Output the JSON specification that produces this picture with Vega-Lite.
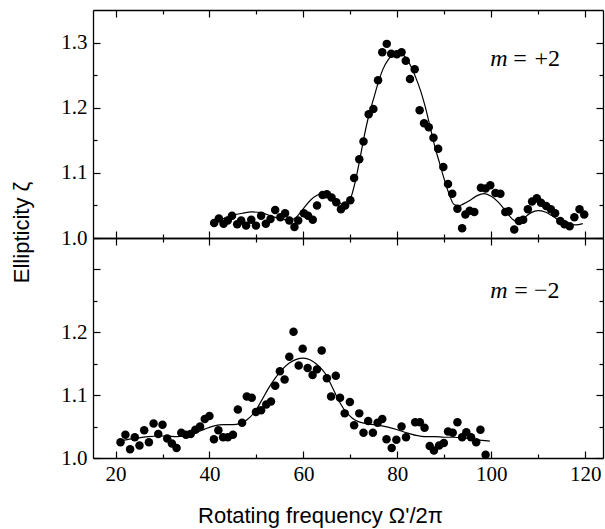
{
  "$schema": "https://vega.github.io/schema/vega-lite/v6.json",
  "padding": {"left": 10, "top": 9, "right": 3, "bottom": 5},
  "background": "white",
  "config": {
    "view": {"stroke": null},
    "axis": {
      "domainColor": "black", "domainWidth": 1.3,
      "tickColor": "black", "tickWidth": 1.2,
      "grid": false,
      "labelFont": "Liberation Serif", "labelFontSize": 21, "labelColor": "black",
      "labelOverlap": false, "labelFlush": false,
      "titleFont": "Liberation Sans", "titleFontSize": 22, "titleFontWeight": "normal", "titleColor": "black"
    }
  },
  "datasets": {
    "top_pts": [
      {"f":41.0,"z":1.023},{"f":42.0,"z":1.030},{"f":43.0,"z":1.022},{"f":43.9,"z":1.027},{"f":44.8,"z":1.034},
      {"f":45.9,"z":1.021},{"f":46.75,"z":1.027},{"f":47.8,"z":1.019},{"f":48.9,"z":1.028},{"f":49.9,"z":1.019},
      {"f":51.0,"z":1.034},{"f":52.0,"z":1.022},{"f":53.0,"z":1.029},{"f":54.0,"z":1.043},{"f":55.1,"z":1.032},
      {"f":56.1,"z":1.038},{"f":57.0,"z":1.027},{"f":58.1,"z":1.017},{"f":58.9,"z":1.027},{"f":60.1,"z":1.038},
      {"f":61.0,"z":1.034},{"f":62.0,"z":1.028},{"f":62.9,"z":1.050},{"f":64.1,"z":1.066},{"f":65.0,"z":1.067},
      {"f":66.0,"z":1.062},{"f":67.0,"z":1.055},{"f":68.0,"z":1.044},{"f":68.9,"z":1.050},{"f":70.0,"z":1.058},
      {"f":70.8,"z":1.092},{"f":71.9,"z":1.121},{"f":72.8,"z":1.148},{"f":73.9,"z":1.190},{"f":74.9,"z":1.198},
      {"f":75.9,"z":1.242},{"f":76.8,"z":1.285},{"f":77.75,"z":1.298},{"f":78.7,"z":1.283},{"f":79.9,"z":1.282},
      {"f":80.9,"z":1.285},{"f":81.8,"z":1.272},{"f":82.7,"z":1.244},{"f":83.7,"z":1.259},{"f":84.75,"z":1.196},
      {"f":85.7,"z":1.176},{"f":86.7,"z":1.170},{"f":87.7,"z":1.154},{"f":88.7,"z":1.137},{"f":89.8,"z":1.109},
      {"f":90.8,"z":1.083},{"f":91.7,"z":1.068},{"f":92.8,"z":1.045},{"f":93.8,"z":1.015},{"f":94.5,"z":1.036},
      {"f":95.4,"z":1.042},{"f":96.4,"z":1.040},{"f":97.8,"z":1.077},{"f":98.8,"z":1.076},{"f":99.8,"z":1.081},
      {"f":100.9,"z":1.069},{"f":101.95,"z":1.068},{"f":103.0,"z":1.040},{"f":103.7,"z":1.041},{"f":104.9,"z":1.013},
      {"f":105.9,"z":1.026},{"f":106.8,"z":1.028},{"f":107.8,"z":1.044},{"f":108.7,"z":1.056},{"f":109.7,"z":1.061},
      {"f":110.6,"z":1.054},{"f":111.7,"z":1.049},{"f":112.7,"z":1.044},{"f":113.6,"z":1.038},{"f":114.7,"z":1.026},
      {"f":115.6,"z":1.021},{"f":116.7,"z":1.018},{"f":117.7,"z":1.032},{"f":118.8,"z":1.044},{"f":119.8,"z":1.036}
    ],
    "top_fit": [
      {"f":40.5,"z":1.025},{"f":43,"z":1.030},{"f":45,"z":1.035},{"f":47,"z":1.038},{"f":49,"z":1.040},
      {"f":51,"z":1.039},{"f":53,"z":1.034},{"f":55,"z":1.030},{"f":57,"z":1.027},{"f":58.5,"z":1.032},
      {"f":60,"z":1.045},{"f":61.5,"z":1.058},{"f":63,"z":1.066},{"f":64.5,"z":1.069},{"f":66,"z":1.064},
      {"f":67.5,"z":1.055},{"f":68.7,"z":1.050},{"f":70,"z":1.060},{"f":71,"z":1.085},{"f":72,"z":1.12},
      {"f":73,"z":1.158},{"f":74,"z":1.19},{"f":75,"z":1.215},{"f":76,"z":1.240},{"f":77,"z":1.260},
      {"f":78,"z":1.273},{"f":79,"z":1.281},{"f":80,"z":1.284},{"f":81,"z":1.282},{"f":82,"z":1.275},
      {"f":83,"z":1.262},{"f":84,"z":1.245},{"f":85,"z":1.225},{"f":86,"z":1.200},{"f":87,"z":1.170},
      {"f":88,"z":1.140},{"f":89,"z":1.115},{"f":90,"z":1.090},{"f":91,"z":1.068},{"f":92,"z":1.052},
      {"f":93,"z":1.049},{"f":94,"z":1.052},{"f":95.5,"z":1.058},{"f":97,"z":1.065},{"f":98.5,"z":1.068},
      {"f":100,"z":1.064},{"f":101.5,"z":1.055},{"f":103,"z":1.042},{"f":104.5,"z":1.029},{"f":105.5,"z":1.025},
      {"f":107,"z":1.031},{"f":108.5,"z":1.039},{"f":110,"z":1.042},{"f":111.5,"z":1.040},{"f":113,"z":1.034},
      {"f":114.5,"z":1.027},{"f":116,"z":1.022},{"f":118,"z":1.020},{"f":119.5,"z":1.022}
    ],
    "bot_pts": [
      {"f":21.06,"z":1.025},{"f":22.1,"z":1.037},{"f":23.1,"z":1.014},{"f":24.1,"z":1.033},{"f":25.1,"z":1.020},
      {"f":26.1,"z":1.044},{"f":27.1,"z":1.025},{"f":28.1,"z":1.055},{"f":29.1,"z":1.038},{"f":30.0,"z":1.053},
      {"f":31.0,"z":1.031},{"f":32.0,"z":1.023},{"f":33.0,"z":1.016},{"f":34.0,"z":1.040},{"f":35.0,"z":1.037},
      {"f":36.0,"z":1.038},{"f":37.0,"z":1.045},{"f":38.0,"z":1.050},{"f":39.0,"z":1.062},{"f":40.0,"z":1.067},
      {"f":40.95,"z":1.030},{"f":41.9,"z":1.044},{"f":42.9,"z":1.033},{"f":43.9,"z":1.033},{"f":45.0,"z":1.037},
      {"f":46.05,"z":1.077},{"f":46.95,"z":1.056},{"f":47.95,"z":1.098},{"f":49.0,"z":1.096},{"f":49.9,"z":1.073},
      {"f":51.0,"z":1.076},{"f":52.1,"z":1.085},{"f":53.1,"z":1.090},{"f":54.0,"z":1.115},{"f":55.0,"z":1.138},
      {"f":56.0,"z":1.125},{"f":57.0,"z":1.161},{"f":57.9,"z":1.201},{"f":59.0,"z":1.147},{"f":59.85,"z":1.174},
      {"f":60.9,"z":1.143},{"f":61.95,"z":1.132},{"f":62.9,"z":1.141},{"f":63.9,"z":1.171},{"f":65.0,"z":1.127},
      {"f":65.9,"z":1.098},{"f":66.9,"z":1.131},{"f":67.8,"z":1.096},{"f":68.8,"z":1.071},{"f":69.9,"z":1.089},
      {"f":70.8,"z":1.052},{"f":71.9,"z":1.071},{"f":72.8,"z":1.040},{"f":73.8,"z":1.059},{"f":74.8,"z":1.040},
      {"f":75.8,"z":1.056},{"f":76.8,"z":1.062},{"f":77.7,"z":1.030},{"f":78.8,"z":1.016},{"f":79.8,"z":1.029},
      {"f":80.9,"z":1.050},{"f":81.85,"z":1.033},{"f":83.8,"z":1.057},{"f":84.8,"z":1.057},{"f":85.8,"z":1.048},
      {"f":86.9,"z":1.019},{"f":87.8,"z":1.012},{"f":88.9,"z":1.020},{"f":89.9,"z":1.024},{"f":90.8,"z":1.042},
      {"f":91.8,"z":1.040},{"f":92.8,"z":1.057},{"f":93.8,"z":1.033},{"f":94.7,"z":1.041},{"f":95.7,"z":1.033},
      {"f":96.8,"z":1.025},{"f":97.7,"z":1.045},{"f":98.8,"z":1.005}
    ],
    "bot_fit": [
      {"f":21,"z":1.027},{"f":23,"z":1.030},{"f":25,"z":1.032},{"f":27,"z":1.034},{"f":29,"z":1.035},
      {"f":31,"z":1.035},{"f":33,"z":1.034},{"f":35,"z":1.035},{"f":37,"z":1.040},{"f":39,"z":1.046},
      {"f":41,"z":1.051},{"f":43,"z":1.053},{"f":45,"z":1.053},{"f":46.5,"z":1.055},{"f":48,"z":1.061},
      {"f":49.5,"z":1.072},{"f":51,"z":1.090},{"f":52.5,"z":1.110},{"f":54,"z":1.127},{"f":55.5,"z":1.141},
      {"f":57,"z":1.151},{"f":58.5,"z":1.157},{"f":60,"z":1.159},{"f":61.5,"z":1.156},{"f":63,"z":1.148},
      {"f":64.5,"z":1.136},{"f":66,"z":1.115},{"f":67.5,"z":1.092},{"f":69,"z":1.074},{"f":70.5,"z":1.063},
      {"f":72,"z":1.057},{"f":74,"z":1.054},{"f":76,"z":1.052},{"f":78,"z":1.049},{"f":80,"z":1.045},
      {"f":82,"z":1.040},{"f":84,"z":1.036},{"f":86,"z":1.034},{"f":88,"z":1.034},{"f":90,"z":1.033},
      {"f":92,"z":1.033},{"f":94,"z":1.032},{"f":96,"z":1.030},{"f":98,"z":1.028},{"f":99.7,"z":1.027}
    ],
    "top_m": [{"t":"m","f":99.8,"z":1.264}],
    "top_rest": [{"t":"=","f":104.7,"z":1.264},{"t":"+2","f":109.2,"z":1.264}],
    "bot_m": [{"t":"m","f":99.8,"z":1.254}],
    "bot_rest": [{"t":"=","f":104.9,"z":1.254},{"t":"−2","f":109.1,"z":1.254}]
  },
  "spacing": 0,
  "bounds": "flush",
  "vconcat": [
    {
      "width": 510, "height": 228,
      "resolve": {"axis": {"x": "independent", "y": "independent"}},
      "layer": [
        {
          "data": {"name": "top_pts"},
          "mark": {"type": "circle", "size": 72, "color": "black", "opacity": 1},
          "encoding": {
            "x": {"field": "f", "type": "quantitative", "scale": {"domain": [15.2, 123.8], "nice": false, "zero": false},
              "axis": {"orient": "bottom", "values": [20,30,40,50,60,70,80,90,100,110,120], "labels": false, "title": null,
                "tickSize": {"condition": {"test": "datum.value % 20 === 0", "value": -7}, "value": -4}}},
            "y": {"field": "z", "type": "quantitative", "scale": {"domain": [1.0, 1.35], "nice": false, "zero": false},
              "axis": {"orient": "left", "values": [1.0,1.05,1.1,1.15,1.2,1.25,1.3],
                "labelExpr": "abs(datum.value*10 - round(datum.value*10)) < 0.001 ? format(datum.value, '.1f') : ''",
                "labelPadding": 13,
                "tickSize": {"condition": {"test": "abs(datum.value*10 - round(datum.value*10)) < 0.001", "value": -7}, "value": -4},
                "title": "Ellipticity ζ", "titleX": -60, "titleY": 222, "titleAngle": -90, "titleAlign": "center", "titleBaseline": "bottom"}}
          }
        },
        {
          "data": {"name": "top_fit"},
          "mark": {"type": "line", "color": "black", "strokeWidth": 1.2, "interpolate": "monotone"},
          "encoding": {
            "x": {"field": "f", "type": "quantitative", "scale": {"domain": [15.2, 123.8], "nice": false, "zero": false},
              "axis": {"orient": "top", "values": [20,30,40,50,60,70,80,90,100,110,120], "labels": false, "title": null,
                "tickSize": {"condition": {"test": "datum.value % 20 === 0", "value": -7}, "value": -4}}},
            "y": {"field": "z", "type": "quantitative", "scale": {"domain": [1.0, 1.35], "nice": false, "zero": false},
              "axis": {"orient": "right", "values": [1.0,1.05,1.1,1.15,1.2,1.25,1.3], "labels": false, "title": null,
                "tickSize": {"condition": {"test": "abs(datum.value*10 - round(datum.value*10)) < 0.001", "value": -7}, "value": -4}}}
          }
        },
        {
          "data": {"name": "top_m"},
          "mark": {"type": "text", "font": "Liberation Serif", "fontStyle": "italic", "fontSize": 24, "align": "left", "baseline": "alphabetic", "color": "black"},
          "encoding": {
            "x": {"field": "f", "type": "quantitative", "scale": {"domain": [15.2, 123.8], "nice": false, "zero": false}, "axis": null},
            "y": {"field": "z", "type": "quantitative", "scale": {"domain": [1.0, 1.35], "nice": false, "zero": false}, "axis": null},
            "text": {"field": "t"}
          }
        },
        {
          "data": {"name": "top_rest"},
          "mark": {"type": "text", "font": "Liberation Serif", "fontSize": 24, "align": "left", "baseline": "alphabetic", "color": "black"},
          "encoding": {
            "x": {"field": "f", "type": "quantitative", "scale": {"domain": [15.2, 123.8], "nice": false, "zero": false}, "axis": null},
            "y": {"field": "z", "type": "quantitative", "scale": {"domain": [1.0, 1.35], "nice": false, "zero": false}, "axis": null},
            "text": {"field": "t"}
          }
        }
      ]
    },
    {
      "width": 510, "height": 220,
      "resolve": {"axis": {"x": "independent", "y": "independent"}},
      "layer": [
        {
          "data": {"name": "bot_pts"},
          "mark": {"type": "circle", "size": 72, "color": "black", "opacity": 1},
          "encoding": {
            "x": {"field": "f", "type": "quantitative", "scale": {"domain": [15.2, 123.8], "nice": false, "zero": false},
              "axis": {"orient": "bottom", "values": [20,30,40,50,60,70,80,90,100,110,120],
                "labelExpr": "datum.value % 20 === 0 ? datum.label : ''",
                "labelPadding": 12,
                "tickSize": {"condition": {"test": "datum.value % 20 === 0", "value": -7}, "value": -4},
                "title": "Rotating frequency Ω'/2π", "titleX": 227, "titleY": 64, "titleAlign": "center", "titleBaseline": "alphabetic"}},
            "y": {"field": "z", "type": "quantitative", "scale": {"domain": [1.0, 1.35], "nice": false, "zero": false},
              "axis": {"orient": "left", "values": [1.0,1.05,1.1,1.15,1.2,1.25,1.3],
                "labelExpr": "abs(datum.value*10 - round(datum.value*10)) < 0.001 && datum.value < 1.25 ? format(datum.value, '.1f') : ''",
                "labelPadding": 13,
                "tickSize": {"condition": {"test": "abs(datum.value*10 - round(datum.value*10)) < 0.001", "value": -7}, "value": -4},
                "title": null}}
          }
        },
        {
          "data": {"name": "bot_fit"},
          "mark": {"type": "line", "color": "black", "strokeWidth": 1.2, "interpolate": "monotone"},
          "encoding": {
            "x": {"field": "f", "type": "quantitative", "scale": {"domain": [15.2, 123.8], "nice": false, "zero": false},
              "axis": {"orient": "top", "values": [20,30,40,50,60,70,80,90,100,110,120], "labels": false, "title": null,
                "tickSize": {"condition": {"test": "datum.value % 20 === 0", "value": -7}, "value": -4}}},
            "y": {"field": "z", "type": "quantitative", "scale": {"domain": [1.0, 1.35], "nice": false, "zero": false},
              "axis": {"orient": "right", "values": [1.0,1.05,1.1,1.15,1.2,1.25,1.3], "labels": false, "title": null,
                "tickSize": {"condition": {"test": "abs(datum.value*10 - round(datum.value*10)) < 0.001", "value": -7}, "value": -4}}}
          }
        },
        {
          "data": {"name": "bot_m"},
          "mark": {"type": "text", "font": "Liberation Serif", "fontStyle": "italic", "fontSize": 24, "align": "left", "baseline": "alphabetic", "color": "black"},
          "encoding": {
            "x": {"field": "f", "type": "quantitative", "scale": {"domain": [15.2, 123.8], "nice": false, "zero": false}, "axis": null},
            "y": {"field": "z", "type": "quantitative", "scale": {"domain": [1.0, 1.35], "nice": false, "zero": false}, "axis": null},
            "text": {"field": "t"}
          }
        },
        {
          "data": {"name": "bot_rest"},
          "mark": {"type": "text", "font": "Liberation Serif", "fontSize": 24, "align": "left", "baseline": "alphabetic", "color": "black"},
          "encoding": {
            "x": {"field": "f", "type": "quantitative", "scale": {"domain": [15.2, 123.8], "nice": false, "zero": false}, "axis": null},
            "y": {"field": "z", "type": "quantitative", "scale": {"domain": [1.0, 1.35], "nice": false, "zero": false}, "axis": null},
            "text": {"field": "t"}
          }
        }
      ]
    }
  ]
}
